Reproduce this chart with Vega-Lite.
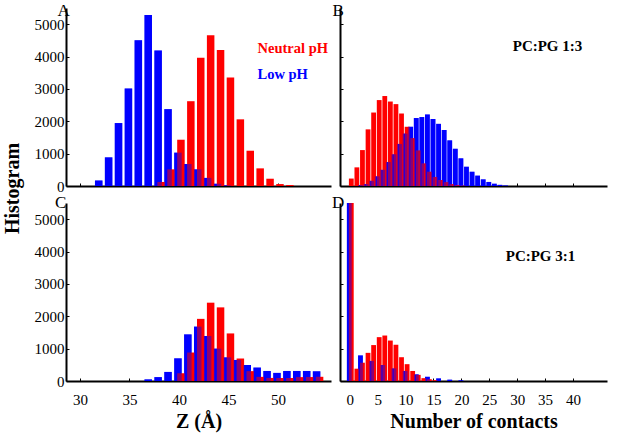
{
  "$schema": "https://vega.github.io/schema/vega-lite/v6.json",
  "padding": {"left": 2, "top": 2, "right": 4, "bottom": 2},
  "background": "white",
  "config": {
    "view": {"stroke": null},
    "font": "Liberation Serif",
    "style": {"guide-label": {"font": "Liberation Serif"}, "guide-title": {"font": "Liberation Serif"}},
    "axis": {
      "grid": false,
      "domainColor": "black",
      "domainWidth": 2,
      "tickColor": "black",
      "tickSize": -3,
      "format": "d",
      "labelFont": "Liberation Serif",
      "labelFontSize": 15,
      "labelColor": "black",
      "titleFont": "Liberation Serif",
      "titleColor": "black"
    },
    "title": {"font": "Liberation Serif", "fontSize": 17, "fontWeight": "normal", "color": "black", "anchor": "start", "frame": "group", "align": "center", "baseline": "alphabetic", "offset": 0}
  },
  "datasets": {
    "zA": [
      {"z": 32, "count": 170, "ph": "Low pH"}, {"z": 33, "count": 885, "ph": "Low pH"}, {"z": 34, "count": 1945, "ph": "Low pH"},
      {"z": 35, "count": 3015, "ph": "Low pH"}, {"z": 36, "count": 4505, "ph": "Low pH"}, {"z": 37, "count": 5280, "ph": "Low pH"},
      {"z": 38, "count": 4190, "ph": "Low pH"}, {"z": 39, "count": 2375, "ph": "Low pH"}, {"z": 40, "count": 1030, "ph": "Low pH"},
      {"z": 41, "count": 680, "ph": "Low pH"}, {"z": 42, "count": 515, "ph": "Low pH"}, {"z": 43, "count": 250, "ph": "Low pH"},
      {"z": 44, "count": 70, "ph": "Low pH"}, {"z": 45, "count": 20, "ph": "Low pH"},
      {"z": 38, "count": 125, "ph": "Neutral pH"}, {"z": 39, "count": 515, "ph": "Neutral pH"}, {"z": 40, "count": 1430, "ph": "Neutral pH"},
      {"z": 41, "count": 2620, "ph": "Neutral pH"}, {"z": 42, "count": 3960, "ph": "Neutral pH"}, {"z": 43, "count": 4660, "ph": "Neutral pH"},
      {"z": 44, "count": 4200, "ph": "Neutral pH"}, {"z": 45, "count": 3355, "ph": "Neutral pH"}, {"z": 46, "count": 2060, "ph": "Neutral pH"},
      {"z": 47, "count": 1090, "ph": "Neutral pH"}, {"z": 48, "count": 545, "ph": "Neutral pH"}, {"z": 49, "count": 225, "ph": "Neutral pH"},
      {"z": 50, "count": 60, "ph": "Neutral pH"}, {"z": 51, "count": 30, "ph": "Neutral pH"}
    ],
    "cB": [
      {"contacts": 0, "count": 230, "ph": "Neutral pH"}, {"contacts": 1, "count": 576, "ph": "Neutral pH"}, {"contacts": 2, "count": 1110, "ph": "Neutral pH"},
      {"contacts": 3, "count": 1750, "ph": "Neutral pH"}, {"contacts": 4, "count": 2270, "ph": "Neutral pH"}, {"contacts": 5, "count": 2655, "ph": "Neutral pH"},
      {"contacts": 6, "count": 2780, "ph": "Neutral pH"}, {"contacts": 7, "count": 2610, "ph": "Neutral pH"}, {"contacts": 8, "count": 2530, "ph": "Neutral pH"},
      {"contacts": 9, "count": 2240, "ph": "Neutral pH"}, {"contacts": 10, "count": 1830, "ph": "Neutral pH"}, {"contacts": 11, "count": 1480, "ph": "Neutral pH"},
      {"contacts": 12, "count": 1100, "ph": "Neutral pH"}, {"contacts": 13, "count": 700, "ph": "Neutral pH"}, {"contacts": 14, "count": 442, "ph": "Neutral pH"},
      {"contacts": 15, "count": 280, "ph": "Neutral pH"}, {"contacts": 16, "count": 185, "ph": "Neutral pH"}, {"contacts": 17, "count": 120, "ph": "Neutral pH"},
      {"contacts": 18, "count": 60, "ph": "Neutral pH"}, {"contacts": 19, "count": 30, "ph": "Neutral pH"}, {"contacts": 20, "count": 15, "ph": "Neutral pH"},
      {"contacts": 2, "count": 30, "ph": "Low pH"}, {"contacts": 3, "count": 60, "ph": "Low pH"}, {"contacts": 4, "count": 160, "ph": "Low pH"},
      {"contacts": 5, "count": 300, "ph": "Low pH"}, {"contacts": 6, "count": 500, "ph": "Low pH"}, {"contacts": 7, "count": 740, "ph": "Low pH"},
      {"contacts": 8, "count": 980, "ph": "Low pH"}, {"contacts": 9, "count": 1300, "ph": "Low pH"}, {"contacts": 10, "count": 1620, "ph": "Low pH"},
      {"contacts": 11, "count": 1830, "ph": "Low pH"}, {"contacts": 12, "count": 2100, "ph": "Low pH"}, {"contacts": 13, "count": 2130, "ph": "Low pH"},
      {"contacts": 14, "count": 2210, "ph": "Low pH"}, {"contacts": 15, "count": 2070, "ph": "Low pH"}, {"contacts": 16, "count": 1920, "ph": "Low pH"},
      {"contacts": 17, "count": 1730, "ph": "Low pH"}, {"contacts": 18, "count": 1410, "ph": "Low pH"}, {"contacts": 19, "count": 1150, "ph": "Low pH"},
      {"contacts": 20, "count": 855, "ph": "Low pH"}, {"contacts": 21, "count": 595, "ph": "Low pH"}, {"contacts": 22, "count": 440, "ph": "Low pH"},
      {"contacts": 23, "count": 320, "ph": "Low pH"}, {"contacts": 24, "count": 205, "ph": "Low pH"}, {"contacts": 25, "count": 125, "ph": "Low pH"},
      {"contacts": 26, "count": 70, "ph": "Low pH"}, {"contacts": 27, "count": 35, "ph": "Low pH"}, {"contacts": 28, "count": 15, "ph": "Low pH"}
    ],
    "zC": [
      {"z": 37, "count": 50, "ph": "Low pH"}, {"z": 38, "count": 120, "ph": "Low pH"}, {"z": 39, "count": 280, "ph": "Low pH"},
      {"z": 40, "count": 700, "ph": "Low pH"}, {"z": 41, "count": 1440, "ph": "Low pH"}, {"z": 42, "count": 1680, "ph": "Low pH"},
      {"z": 43, "count": 1390, "ph": "Low pH"}, {"z": 44, "count": 1000, "ph": "Low pH"}, {"z": 45, "count": 730, "ph": "Low pH"},
      {"z": 46, "count": 650, "ph": "Low pH"}, {"z": 47, "count": 495, "ph": "Low pH"}, {"z": 48, "count": 415, "ph": "Low pH"},
      {"z": 49, "count": 310, "ph": "Low pH"}, {"z": 50, "count": 250, "ph": "Low pH"}, {"z": 51, "count": 310, "ph": "Low pH"},
      {"z": 52, "count": 310, "ph": "Low pH"}, {"z": 53, "count": 310, "ph": "Low pH"}, {"z": 54, "count": 300, "ph": "Low pH"},
      {"z": 40, "count": 240, "ph": "Neutral pH"}, {"z": 41, "count": 880, "ph": "Neutral pH"}, {"z": 42, "count": 1920, "ph": "Neutral pH"},
      {"z": 43, "count": 2420, "ph": "Neutral pH"}, {"z": 44, "count": 2275, "ph": "Neutral pH"}, {"z": 45, "count": 1470, "ph": "Neutral pH"},
      {"z": 46, "count": 695, "ph": "Neutral pH"}, {"z": 47, "count": 305, "ph": "Neutral pH"}, {"z": 48, "count": 128, "ph": "Neutral pH"},
      {"z": 49, "count": 95, "ph": "Neutral pH"}, {"z": 50, "count": 92, "ph": "Neutral pH"}, {"z": 51, "count": 92, "ph": "Neutral pH"},
      {"z": 52, "count": 120, "ph": "Neutral pH"}, {"z": 53, "count": 122, "ph": "Neutral pH"}, {"z": 54, "count": 130, "ph": "Neutral pH"}
    ],
    "cD": [
      {"contacts": 0, "count": 8000, "ph": "Neutral pH"}, {"contacts": 1, "count": 380, "ph": "Neutral pH"}, {"contacts": 2, "count": 565, "ph": "Neutral pH"},
      {"contacts": 3, "count": 870, "ph": "Neutral pH"}, {"contacts": 4, "count": 1110, "ph": "Neutral pH"}, {"contacts": 5, "count": 1355, "ph": "Neutral pH"},
      {"contacts": 6, "count": 1405, "ph": "Neutral pH"}, {"contacts": 7, "count": 1250, "ph": "Neutral pH"}, {"contacts": 8, "count": 1120, "ph": "Neutral pH"},
      {"contacts": 9, "count": 735, "ph": "Neutral pH"}, {"contacts": 10, "count": 520, "ph": "Neutral pH"}, {"contacts": 11, "count": 310, "ph": "Neutral pH"},
      {"contacts": 12, "count": 190, "ph": "Neutral pH"}, {"contacts": 13, "count": 88, "ph": "Neutral pH"}, {"contacts": 14, "count": 55, "ph": "Neutral pH"},
      {"contacts": 15, "count": 25, "ph": "Neutral pH"},
      {"contacts": 0, "count": 8000, "ph": "Low pH"}, {"contacts": 2, "count": 790, "ph": "Low pH"}, {"contacts": 4, "count": 620, "ph": "Low pH"},
      {"contacts": 6, "count": 495, "ph": "Low pH"}, {"contacts": 8, "count": 390, "ph": "Low pH"}, {"contacts": 10, "count": 310, "ph": "Low pH"},
      {"contacts": 12, "count": 205, "ph": "Low pH"}, {"contacts": 14, "count": 130, "ph": "Low pH"}, {"contacts": 16, "count": 80, "ph": "Low pH"},
      {"contacts": 18, "count": 40, "ph": "Low pH"}, {"contacts": 20, "count": 20, "ph": "Low pH"}
    ]
  },
  "columns": 2,
  "spacing": {"row": 17, "column": 9},
  "bounds": "flush",
  "concat": [
    {
      "width": 265, "height": 178,
      "title": {"text": "A", "dx": -8.5, "dy": 16},
      "data": {"name": "zA"},
      "encoding": {
        "x": {"field": "z", "type": "quantitative", "scale": {"domain": [29.1, 54.85], "nice": false, "zero": false},
              "axis": {"values": [30, 35, 40, 45, 50], "labels": false, "title": null}},
        "y": {"field": "count", "type": "quantitative", "scale": {"domain": [0, 5500], "nice": false},
              "axis": {"values": [0, 1000, 2000, 3000, 4000, 5000], "format": "d", "labelFont": "Liberation Serif", "labelPadding": 5, "title": "Histogram",
                       "titleX": -44, "titleY": 180, "titleAngle": 270, "titleAlign": "center", "titleBaseline": "bottom",
                       "titleFont": "Liberation Serif", "titleFontSize": 20, "titleFontWeight": "bold"}},
        "color": {"field": "ph", "type": "nominal", "scale": {"domain": ["Neutral pH", "Low pH"], "range": ["#ff0000", "#0000ff"]},
                  "legend": {"title": null, "orient": "none", "legendX": 177, "legendY": 34, "symbolSize": 0, "symbolStrokeWidth": 0,
                             "symbolOpacity": 0, "labelOffset": 0, "labelFont": "Liberation Serif", "labelFontSize": 14.5,
                             "labelFontWeight": "bold", "rowPadding": 11, "padding": 0, "labelLimit": 0,
                             "encode": {"labels": {"update": {"fill": {"signal": "datum.label === 'Low pH' ? '#0000ff' : '#ff0000'"}}}}}}
      },
      "layer": [
        {"transform": [{"filter": "datum.ph === 'Low pH'"}], "mark": {"type": "bar", "size": 7.5, "xOffset": -1}},
        {"transform": [{"filter": "datum.ph === 'Neutral pH'"}], "mark": {"type": "bar", "size": 7.5, "xOffset": 2}},
        {"transform": [{"filter": "datum.ph === 'Low pH'"}], "mark": {"type": "bar", "size": 7.5, "xOffset": -1, "opacity": 0.45}}
      ]
    },
    {
      "width": 267, "height": 178,
      "title": {"text": "B", "dx": -7.5, "dy": 16},
      "data": {"name": "cB"},
      "encoding": {
        "x": {"field": "contacts", "type": "quantitative", "scale": {"domain": [-0.86, 45.2], "nice": false, "zero": false},
              "axis": {"values": [0, 5, 10, 15, 20, 25, 30, 35, 40], "labels": false, "title": null}},
        "y": {"field": "count", "type": "quantitative", "scale": {"domain": [0, 5500], "nice": false},
              "axis": {"values": [0, 1000, 2000, 3000, 4000, 5000], "labels": false, "title": "PC:PG 1:3",
                       "titleX": 207, "titleY": 42, "titleAngle": 0, "titleAlign": "center", "titleBaseline": "alphabetic",
                       "titleFont": "Liberation Serif", "titleFontSize": 15, "titleFontWeight": "bold"}},
        "color": {"field": "ph", "type": "nominal", "scale": {"domain": ["Neutral pH", "Low pH"], "range": ["#ff0000", "#0000ff"]}, "legend": null}
      },
      "layer": [
        {"transform": [{"filter": "datum.ph === 'Low pH'"}], "mark": {"type": "bar", "size": 4.8, "xOffset": -0.5}},
        {"transform": [{"filter": "datum.ph === 'Neutral pH'"}], "mark": {"type": "bar", "size": 4.8, "xOffset": 1.5}},
        {"transform": [{"filter": "datum.ph === 'Low pH'"}], "mark": {"type": "bar", "size": 4.8, "xOffset": -0.5, "opacity": 0.45}}
      ]
    },
    {
      "width": 265, "height": 178,
      "title": {"text": "C", "dx": -11, "dy": 13},
      "data": {"name": "zC"},
      "encoding": {
        "x": {"field": "z", "type": "quantitative", "scale": {"domain": [29.1, 54.85], "nice": false, "zero": false},
              "axis": {"values": [30, 35, 40, 45, 50], "format": "d", "labelFont": "Liberation Serif", "labelPadding": 14, "title": "Z (Å)",
                       "titleFont": "Liberation Serif", "titleFontSize": 20, "titleFontWeight": "bold", "titlePadding": 4}},
        "y": {"field": "count", "type": "quantitative", "scale": {"domain": [0, 5500], "nice": false},
              "axis": {"values": [0, 1000, 2000, 3000, 4000, 5000], "format": "d", "labelFont": "Liberation Serif", "labelPadding": 5, "title": null}},
        "color": {"field": "ph", "type": "nominal", "scale": {"domain": ["Neutral pH", "Low pH"], "range": ["#ff0000", "#0000ff"]}, "legend": null}
      },
      "layer": [
        {"transform": [{"filter": "datum.ph === 'Low pH'"}], "mark": {"type": "bar", "size": 7.5, "xOffset": -1}},
        {"transform": [{"filter": "datum.ph === 'Neutral pH'"}], "mark": {"type": "bar", "size": 7.5, "xOffset": 2}},
        {"transform": [{"filter": "datum.ph === 'Low pH'"}], "mark": {"type": "bar", "size": 7.5, "xOffset": -1, "opacity": 0.45}}
      ]
    },
    {
      "width": 267, "height": 178,
      "title": {"text": "D", "dx": -8, "dy": 13},
      "data": {"name": "cD"},
      "encoding": {
        "x": {"field": "contacts", "type": "quantitative", "scale": {"domain": [-0.86, 45.2], "nice": false, "zero": false},
              "axis": {"values": [0, 5, 10, 15, 20, 25, 30, 35, 40], "format": "d", "labelFont": "Liberation Serif", "labelPadding": 14, "title": "Number of contacts",
                       "titleFont": "Liberation Serif", "titleFontSize": 20, "titleFontWeight": "bold", "titlePadding": 4}},
        "y": {"field": "count", "type": "quantitative", "scale": {"domain": [0, 5500], "nice": false},
              "axis": {"values": [0, 1000, 2000, 3000, 4000, 5000], "labels": false, "title": "PC:PG 3:1",
                       "titleX": 200, "titleY": 57, "titleAngle": 0, "titleAlign": "center", "titleBaseline": "alphabetic",
                       "titleFont": "Liberation Serif", "titleFontSize": 15, "titleFontWeight": "bold"}},
        "color": {"field": "ph", "type": "nominal", "scale": {"domain": ["Neutral pH", "Low pH"], "range": ["#ff0000", "#0000ff"]}, "legend": null}
      },
      "layer": [
        {"transform": [{"filter": "datum.ph === 'Low pH'"}], "mark": {"type": "bar", "size": 4.8, "xOffset": -0.5, "clip": true}},
        {"transform": [{"filter": "datum.ph === 'Neutral pH'"}], "mark": {"type": "bar", "size": 4.8, "xOffset": 1.5, "clip": true}},
        {"transform": [{"filter": "datum.ph === 'Low pH'"}], "mark": {"type": "bar", "size": 4.8, "xOffset": -0.5, "opacity": 0.45, "clip": true}}
      ]
    }
  ],
  "resolve": {"legend": {"color": "independent"}}
}
